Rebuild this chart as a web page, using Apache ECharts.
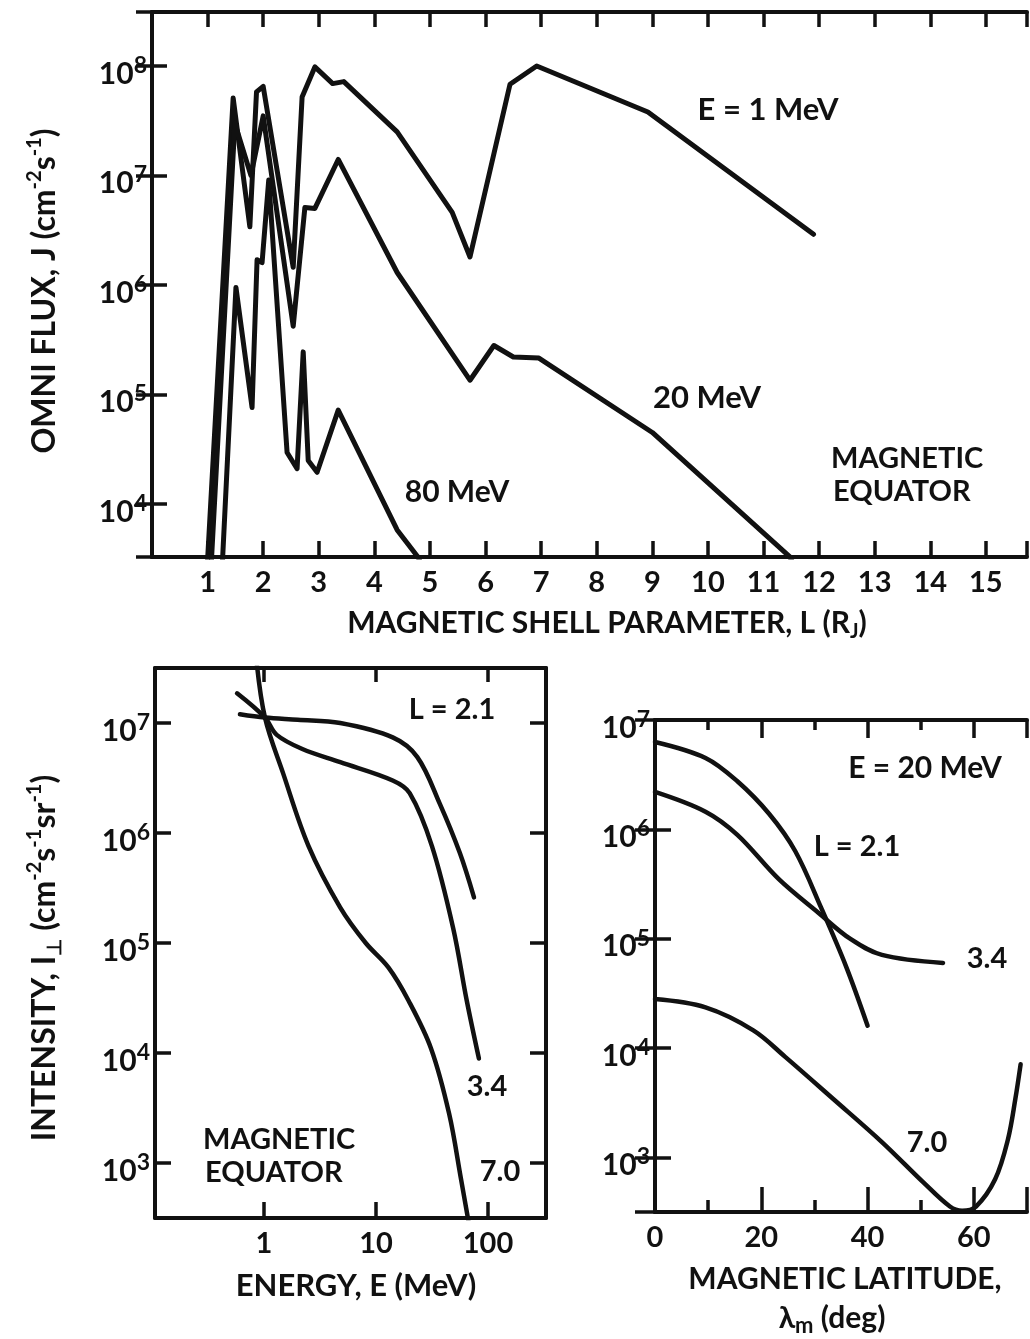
<!DOCTYPE html>
<html><head><meta charset="utf-8">
<script src="https://cdn.jsdelivr.net/npm/echarts@6/dist/echarts.min.js"></script>
<style>html,body{margin:0;padding:0;background:#fff}#c{width:1030px;height:1339px}</style>
</head><body><div id="c"></div>
<script>
// ---------- DATA ----------
// Top panel: omni flux J (cm^-2 s^-1) vs magnetic shell parameter L (R_J)
const fluxE1MeV = [[0.99,2.5e3],[1.46,5.1e7],[1.76,3.4e6],[1.88,5.8e7],[2.0,6.5e7],[2.54,1.45e6],[2.70,5.2e7],[2.93,9.8e7],[3.25,6.9e7],[3.45,7.2e7],[4.41,2.5e7],[5.40,4.6e6],[5.72,1.8e6],[6.44,6.8e7],[6.92,1.0e8],[8.92,3.8e7],[11.9,2.9e6]];
const fluxE20MeV = [[1.06,2.5e3],[1.49,3.0e7],[1.78,1.0e7],[2.0,3.5e7],[2.54,4.2e5],[2.75,5.1e6],[2.93,5.0e6],[3.35,1.4e7],[4.41,1.3e6],[5.72,1.35e5],[6.15,2.8e5],[6.5,2.2e5],[6.96,2.15e5],[9.0,4.5e4],[11.47,3.3e3],[11.6,2.5e3]];
const fluxE80MeV = [[1.26,2.5e3],[1.51,9.5e5],[1.80,7.6e4],[1.89,1.7e6],[1.98,1.6e6],[2.10,9.1e6],[2.43,2.95e4],[2.61,2.1e4],[2.72,2.45e5],[2.81,2.5e4],[2.97,1.95e4],[3.35,7.2e4],[4.41,5.8e3],[4.78,3.3e3],[4.85,2.8e3]];
const shellTicks = [1,2,3,4,5,6,7,8,9,10,11,12,13,14,15];

// Bottom-left: intensity I_perp vs energy E (MeV) at magnetic equator
const specL21 = [[0.61,1.2e7],[1.02,1.12e7],[2.0,1.07e7],[4.8,1.0e7],[14.1,7.4e6],[23.4,4.9e6],[37,1.86e6],[56,6.6e5],[75,2.6e5]];
const specL34 = [[0.575,1.86e7],[1.02,1.12e7],[1.3,7.8e6],[2.2,5.8e6],[4.8,4.4e6],[14.1,3.0e6],[20,2.3e6],[31.6,7.6e5],[49,1.35e5],[64.6,3.0e4],[83,8.9e3]];
const specL70 = [[0.85,4.0e7],[1.02,1.12e7],[1.48,3.5e6],[2.5,7.6e5],[4.8,2.1e5],[8.1,1.0e5],[12.9,6.0e4],[19.5,3.0e4],[31,1.1e4],[45,2.8e3],[57.5,7.1e2],[66,3.2e2],[69,2.5e2]];
const energyTicks = [1,10,100];

// Bottom-right: intensity vs magnetic latitude (deg), E = 20 MeV
const latL21 = [[0,6.3e6],[9.5,4.5e6],[15.5,2.75e6],[21.5,1.38e6],[26.4,6.3e5],[31.3,1.9e5],[36,5.5e4],[40,1.6e4]];
const latL34 = [[0,2.2e6],[9.5,1.45e6],[15.5,8.9e5],[23.3,3.5e5],[30.9,1.7e5],[36.7,1.0e5],[42.7,7.1e4],[54.2,6.0e4]];
const latL70 = [[0,2.8e4],[9.5,2.35e4],[18.5,1.45e4],[24.5,8.3e3],[33.6,3.4e3],[42.7,1.38e3],[50.5,5.9e2],[55.5,3.55e2],[57.8,3.25e2],[60.4,3.55e2],[64,6.3e2],[66.4,1.45e3],[67.8,3.4e3],[68.8,7.1e3]];
const latTicks = [0,20,40,60];

// ---------- STYLE ----------
const F = 'Lato';
const INK = '#111';
const lineAx = {show:true, lineStyle:{color:INK, width:4}};
function tick(len){ return {show:true, inside:true, length:len, lineStyle:{color:INK, width:3.5}}; }
const noLabel = {show:false};
const noSplit = {show:false};
function isPow(v){ const e=Math.log10(v); return Math.abs(e-Math.round(e))<1e-6; }
function powLabel(v){ return isPow(v) ? '{b|10}{s|'+Math.round(Math.log10(v))+'}' : ''; }
const powRich = {
  b:{fontSize:30,fontWeight:'bold',fontFamily:F,color:INK,lineHeight:40,verticalAlign:'middle'},
  s:{fontSize:23,fontWeight:'bold',fontFamily:F,color:INK,lineHeight:20,verticalAlign:'top'}
};
const yPowLabel = {show:true, formatter:powLabel, margin:5, padding:[16,0,0,0], rich:powRich};
const numLabel = (fmt)=>({show:true, formatter:fmt, margin:11, fontSize:29, fontWeight:'bold', fontFamily:F, color:INK});

const xAxes = [
  // grid 0
  {gridIndex:0, type:'value', position:'bottom', min:0, max:15.74, interval:1, axisLine:lineAx, axisTick:tick(16), splitLine:noSplit,
    axisLabel:numLabel(v => shellTicks.indexOf(v)>=0 ? String(v) : '')},
  {gridIndex:0, type:'value', position:'top', min:0, max:15.74, interval:1, axisLine:lineAx, axisTick:tick(15), splitLine:noSplit, axisLabel:noLabel},
  // grid 1
  {gridIndex:1, type:'log', logBase:10, position:'bottom', min:0.1064, max:329.6, axisLine:lineAx, axisTick:tick(16), splitLine:noSplit,
    axisLabel:numLabel(v => { const r=Math.round(v); return (isPow(v) && energyTicks.indexOf(r)>=0) ? String(r) : ''; })},
  {gridIndex:1, type:'log', logBase:10, position:'top', min:0.1064, max:329.6, axisLine:lineAx, axisTick:tick(14), splitLine:noSplit, axisLabel:noLabel},
  // grid 2
  {gridIndex:2, type:'value', position:'bottom', min:0, max:70, interval:20, axisLine:lineAx, axisTick:tick(25), splitLine:noSplit,
    axisLabel:numLabel(v => latTicks.indexOf(v)>=0 ? String(v) : '')},
  {gridIndex:2, type:'value', position:'bottom', min:0, max:70, interval:10, axisLine:{show:false}, axisTick:tick(12), splitLine:noSplit, axisLabel:noLabel},
  {gridIndex:2, type:'value', position:'top', min:0, max:70, interval:20, axisLine:lineAx, axisTick:tick(18), splitLine:noSplit, axisLabel:noLabel},
  {gridIndex:2, type:'value', position:'top', min:0, max:70, interval:10, axisLine:{show:false}, axisTick:tick(10), splitLine:noSplit, axisLabel:noLabel}
];
const yAxes = [
  {gridIndex:0, type:'log', logBase:10, position:'left', min:3281, max:3.11e8, axisLine:lineAx, axisTick:tick(15), splitLine:noSplit, axisLabel:yPowLabel},
  {gridIndex:0, type:'log', logBase:10, position:'right', min:3281, max:3.11e8, axisLine:lineAx, axisTick:tick(16), splitLine:noSplit, axisLabel:noLabel},
  {gridIndex:1, type:'log', logBase:10, position:'left', min:316.2, max:3.162e7, axisLine:lineAx, axisTick:tick(16), splitLine:noSplit, axisLabel:yPowLabel},
  {gridIndex:1, type:'log', logBase:10, position:'right', min:316.2, max:3.162e7, axisLine:lineAx, axisTick:tick(16), splitLine:noSplit, axisLabel:noLabel},
  {gridIndex:2, type:'log', logBase:10, position:'left', min:316.2, max:1e7, axisLine:lineAx, axisTick:tick(16), splitLine:noSplit, axisLabel:yPowLabel},
  {gridIndex:2, type:'log', logBase:10, position:'right', min:316.2, max:1e7, axisLine:lineAx, axisTick:tick(20), splitLine:noSplit, axisLabel:noLabel}
];

function ser(data, xi, yi, w, smooth){
  return {type:'line', xAxisIndex:xi, yAxisIndex:yi, data:data, symbol:'none', smooth:smooth||false,
          lineStyle:{color:INK, width:w, join:'round', cap:'round'}, clip:true, silent:true};
}

function txt(x, y, text, size, weight, align, extra){
  const st = Object.assign({text:text, fontSize:size, fontWeight:weight, fontFamily:F, fill:INK,
    align:align||'center', textAlign:align||'center', verticalAlign:'middle', textVerticalAlign:'middle'}, extra||{});
  return {type:'text', x:x, y:y, style:st, silent:true};
}
const supSt = {fontSize:20, fontFamily:F, fontWeight:'bold', fill:INK, lineHeight:16, verticalAlign:'top'};
const subSt = {fontSize:20, fontFamily:F, fontWeight:'bold', fill:INK, lineHeight:16, verticalAlign:'bottom'};

const graphics = [
  // top panel annotations
  txt(768,110,'E = 1 MeV',31,'bold'),
  txt(707,398,'20 MeV',31,'bold'),
  txt(457,492,'80 MeV',30,'bold'),
  txt(831,459,'MAGNETIC',29,'bold','left'),
  txt(833,492,'EQUATOR',29,'bold','left'),
  txt(607,623,'MAGNETIC SHELL PARAMETER, L (R{sub|J})',30,'bold','center',{lineHeight:38, rich:{sub:subSt}}),
  Object.assign(txt(45,291,'OMNI FLUX, J (cm{s|-2}s{s|-1})',32,'bold','center',{lineHeight:40, rich:{s:supSt}}),{rotation:Math.PI/2}),
  // bottom-left annotations
  txt(452,710,'L = 2.1',29,'bold'),
  txt(487,1087,'3.4',29,'bold'),
  txt(500,1172,'7.0',29,'bold'),
  txt(203,1140,'MAGNETIC',29,'bold','left'),
  txt(205,1173,'EQUATOR',29,'bold','left'),
  txt(356,1286,'ENERGY, E (MeV)',31,'bold'),
  Object.assign(txt(45,958,'INTENSITY, I{sub|⊥} (cm{s|-2}s{s|-1}sr{s|-1})',32,'bold','center',{lineHeight:40, rich:{s:supSt, sub:subSt}}),{rotation:Math.PI/2}),
  // bottom-right annotations
  txt(925,768,'E = 20 MeV',30,'bold'),
  txt(857,847,'L = 2.1',29,'bold'),
  txt(987,959,'3.4',29,'bold'),
  txt(927,1143,'7.0',29,'bold'),
  txt(845,1279,'MAGNETIC LATITUDE,',30,'bold'),
  txt(832,1318,'λ{sub|m} (deg)',30,'bold','center',{lineHeight:38, rich:{sub:Object.assign({},subSt,{fontSize:22})}})
];

const chart = echarts.init(document.getElementById('c'), null, {renderer:'canvas'});
chart.setOption({
  animation:false,
  backgroundColor:'#fff',
  grid:[
    {left:152, top:12, width:875, height:545},
    {left:155, top:668, width:391, height:550},
    {left:655, top:720, width:385, height:492}
  ],
  xAxis:xAxes,
  yAxis:yAxes,
  series:[
    ser(fluxE1MeV,0,0,5),
    ser(fluxE20MeV,0,0,5),
    ser(fluxE80MeV,0,0,5),
    ser(specL21,2,2,4.5,0.35),
    ser(specL34,2,2,4.5,0.35),
    ser(specL70,2,2,4.5,0.35),
    ser(latL21,4,4,4.5,0.35),
    ser(latL34,4,4,4.5,0.35),
    ser(latL70,4,4,4.5,0.35)
  ],
  graphic:graphics
});
</script></body></html>
